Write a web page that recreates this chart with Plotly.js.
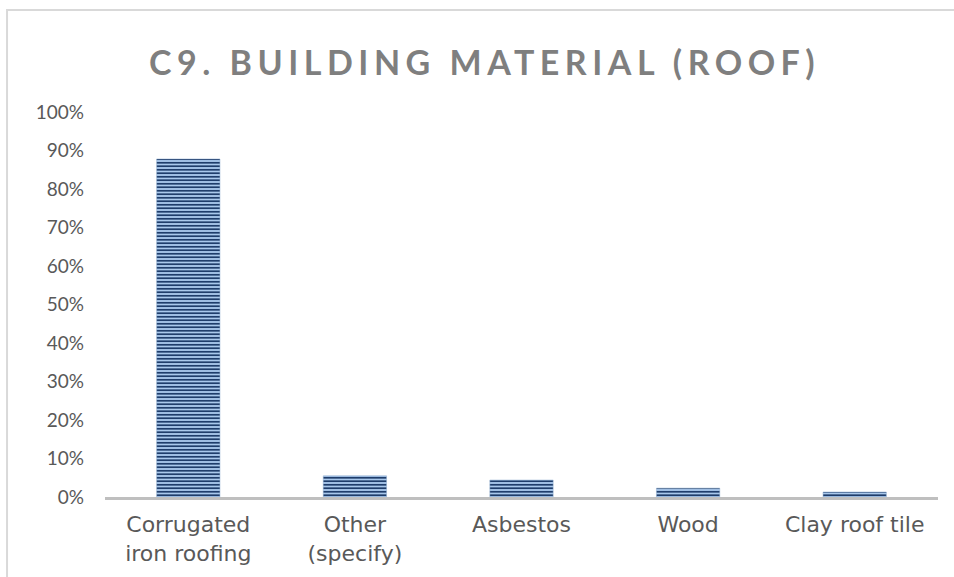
<!DOCTYPE html>
<html>
<head>
<meta charset="utf-8">
<script src="https://cdn.plot.ly/plotly-3.0.1.min.js"></script>
<style>html,body{margin:0;padding:0;background:#fff;}#chart{width:954px;height:577px;}</style>
</head>
<body>
<div id="chart"></div>
<script>
const categories = ["Corrugated<br>iron roofing", "Other<br>(specify)", "Asbestos", "Wood", "Clay roof tile"];
const shares = [0.878, 0.055, 0.044, 0.023, 0.013];
const yTickValues = [0, 0.1, 0.2, 0.3, 0.4, 0.5, 0.6, 0.7, 0.8, 0.9, 1.0];
const chartTitle = "C9. BUILDING MATERIAL (ROOF)";

const trace = {
  type: "bar",
  x: categories,
  y: shares,
  marker: {
    color: "#a9c8ec",
    line: {color: "#8aa8cc", width: 0.5},
    pattern: {shape: "-", bgcolor: "#a9c8ec", fgcolor: "#1f3d6b", fgopacity: 1, size: 3.5, solidity: 0.5}
  },
  hoverinfo: "skip"
};

const layout = {
  width: 954, height: 577,
  margin: {l: 105, r: 16, t: 112, b: 80},
  paper_bgcolor: "#ffffff",
  plot_bgcolor: "#ffffff",
  showlegend: false,
  bargap: 0.62,
  font: {family: "Lato, 'DejaVu Sans', sans-serif", color: "#595959", size: 19},
  title: {
    text: chartTitle,
    font: {family: "Lato, 'DejaVu Sans', sans-serif", size: 34, color: "#7f7f7f", weight: "bold"},
    xref: "container", x: 0.508, xanchor: "center",
    yref: "container", y: 0.891, yanchor: "middle"
  },
  xaxis: {
    type: "category",
    showline: true, linecolor: "#bfbfbf", linewidth: 3,
    ticks: "", showgrid: false, zeroline: false,
    ticklabelstandoff: 6,
    tickfont: {family: "'DejaVu Sans', sans-serif", size: 22, color: "#595959"}
  },
  yaxis: {
    range: [0, 1],
    tickvals: yTickValues,
    tickformat: ".0%",
    showgrid: false, zeroline: false, showline: false, ticks: "",
    ticklabelstandoff: 20,
    tickfont: {size: 19, color: "#595959"}
  },
  shapes: [{
    type: "rect", xref: "paper", yref: "paper",
    x0: -0.1176, x1: 1.05, y0: -0.3, y1: 1.265,
    line: {color: "#d9d9d9", width: 2}, fillcolor: "rgba(0,0,0,0)", layer: "below"
  }]
};

Plotly.newPlot("chart", [trace], layout, {displayModeBar: false, staticPlot: true}).then(function(){
  const t = document.querySelector(".gtitle");
  if (t) { t.style.letterSpacing = "5.5px"; }
});
</script>
</body>
</html>
